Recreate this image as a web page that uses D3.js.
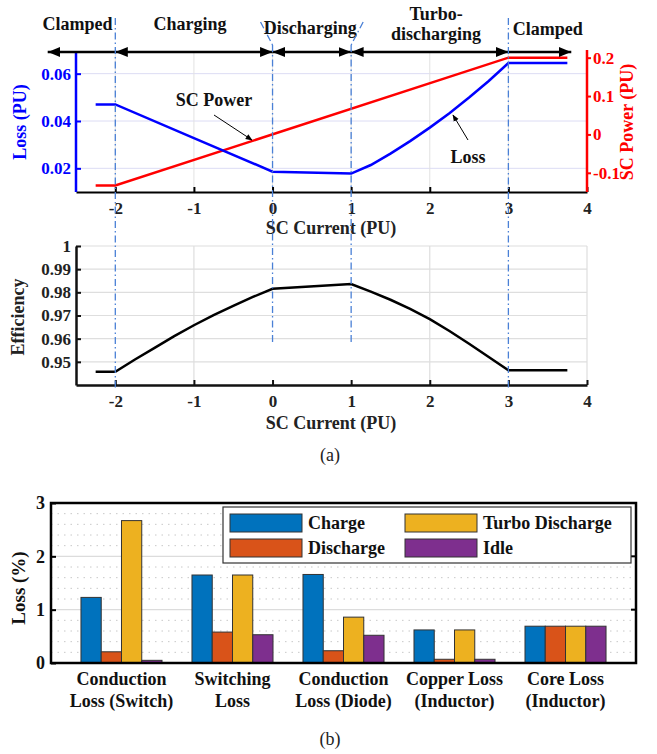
<!DOCTYPE html>
<html lang="en">
<head>
<meta charset="UTF-8">
<title>SC Loss / Efficiency</title>
<script src="https://cdn.jsdelivr.net/npm/d3@7"></script>
<style>
  body { margin: 0; background: #fff; }
  svg text { font-family: "Liberation Serif", "Times New Roman", serif; font-weight: bold; }
</style>
</head>
<body>
<div id="chart"></div>
<script>
// ---- data ----
const lossX = [-2.25, -2, -1, 0, 1, 1.25, 1.5, 1.75, 2, 2.25, 2.5, 2.75, 3, 3.75];
const lossY = [0.047, 0.047, 0.0328, 0.0186, 0.0178, 0.0214, 0.0262, 0.0315, 0.0372, 0.0433, 0.0499, 0.0569, 0.0645, 0.0645];
const powerX = [-2.25, -2, 3, 3.75];
const powerY = [-0.133, -0.133, 0.2, 0.2];
const effX = [-2.25, -2, -1.75, -1.5, -1.25, -1, -0.75, -0.5, -0.25, 0, 1, 1.25, 1.5, 1.75, 2, 2.25, 2.5, 2.75, 3, 3.75];
const effY = [0.9457, 0.9457, 0.951, 0.956, 0.9611, 0.9658, 0.9702, 0.9742, 0.978, 0.9815, 0.9836, 0.9803, 0.9768, 0.9729, 0.9684, 0.9633, 0.9578, 0.9521, 0.9464, 0.9464];
const modeBounds = [-2, 0, 1, 3];
const modes = ["Clamped", "Charging", "Discharging", "Turbo-\ndischarging", "Clamped"];

const categories = ["Conduction\nLoss (Switch)", "Switching\nLoss", "Conduction\nLoss (Diode)", "Copper Loss\n(Inductor)", "Core Loss\n(Inductor)"];
const seriesNames = ["Charge", "Discharge", "Turbo Discharge", "Idle"];
const charge = [1.23, 1.65, 1.66, 0.62, 0.69];
const discharge = [0.21, 0.58, 0.23, 0.07, 0.69];
const turbo = [2.67, 1.65, 0.86, 0.62, 0.69];
const idle = [0.05, 0.53, 0.52, 0.07, 0.69];
const barColors = ["#0072BD", "#D95319", "#EDB120", "#7E2F8E"];

const W = 657, H = 754;
const svg = d3.select("#chart").append("svg").attr("width", W).attr("height", H);

const x = d3.scaleLinear().domain([-2.5, 4]).range([76, 587]);
const dashBlue = "#4a80d6";
const plain = d => String(d);
const TICK = "17px", LAB = "18px";

// ---------- top chart ----------
const yL = d3.scaleLinear().domain([0.01, 0.07]).range([192, 50]);
const yR = d3.scaleLinear().domain([-0.15, 0.22]).range([192, 50]);

const gTop = svg.append("g");
// grid
gTop.selectAll(".hg").data([0.02, 0.04, 0.06]).enter().append("line")
  .attr("x1", 76).attr("x2", 587).attr("y1", d => yL(d)).attr("y2", d => yL(d))
  .attr("stroke", "#dcdcf4").attr("stroke-width", 1);
gTop.selectAll(".vg").data([-2, -1, 0, 1, 2, 3]).enter().append("line")
  .attr("x1", d => x(d)).attr("x2", d => x(d)).attr("y1", 52).attr("y2", 192)
  .attr("stroke", "#e2e2e2").attr("stroke-width", 1);

const xAxisTop = gTop.append("g").attr("transform", "translate(0,192)")
  .call(d3.axisBottom(x).tickValues([-2, -1, 0, 1, 2, 3, 4]).tickFormat(plain).tickSizeInner(-5).tickSizeOuter(0).tickPadding(10));
const yAxisL = gTop.append("g").attr("transform", "translate(76,0)")
  .call(d3.axisLeft(yL).tickValues([0.02, 0.04, 0.06]).tickFormat(plain).tickSizeInner(-5).tickSizeOuter(0).tickPadding(5));
const yAxisR = gTop.append("g").attr("transform", "translate(587,0)")
  .call(d3.axisRight(yR).tickValues([-0.1, 0, 0.1, 0.2]).tickFormat(plain).tickSizeInner(4).tickSizeOuter(0).tickPadding(2));
xAxisTop.select(".domain").attr("stroke", "#000").attr("stroke-width", 2);
xAxisTop.selectAll("line").attr("stroke", "#000").attr("stroke-width", 2);
yAxisL.select(".domain").attr("stroke", "#0000ff").attr("stroke-width", 2.5).attr("d", "M0,192V52");
yAxisL.selectAll("line").attr("stroke", "#0000ff").attr("stroke-width", 2);
yAxisR.select(".domain").attr("stroke", "#ff0000").attr("stroke-width", 2.5).attr("d", "M0,192V50");
yAxisR.selectAll("line").attr("stroke", "#ff0000").attr("stroke-width", 2);
xAxisTop.selectAll("text").attr("fill", "#222").style("font-size", TICK);
yAxisL.selectAll("text").attr("fill", "#0000ff").style("font-size", TICK);
yAxisR.selectAll("text").attr("fill", "#ff0000").style("font-size", TICK);

const lineL = d3.line().x(d => x(d[0])).y(d => yL(d[1]));
const lineR = d3.line().x(d => x(d[0])).y(d => yR(d[1]));
gTop.append("path").datum(d3.zip(powerX, powerY)).attr("d", lineR)
  .attr("fill", "none").attr("stroke", "#ff0000").attr("stroke-width", 2.5);
gTop.append("path").datum(d3.zip(lossX, lossY)).attr("d", lineL)
  .attr("fill", "none").attr("stroke", "#0000ff").attr("stroke-width", 2.5);

gTop.append("text").attr("x", 22).attr("y", 122).attr("transform", "rotate(-90,22,122)")
  .attr("text-anchor", "middle").attr("dominant-baseline", "middle")
  .attr("fill", "#0000ff").style("font-size", LAB).text("Loss (PU)");
gTop.append("text").attr("x", 629).attr("y", 122).attr("transform", "rotate(-90,629,122)")
  .attr("text-anchor", "middle").attr("dominant-baseline", "middle")
  .attr("fill", "#ff0000").style("font-size", LAB).text("SC Power (PU)");
gTop.append("text").attr("x", 331).attr("y", 234).attr("text-anchor", "middle")
  .attr("fill", "#222").style("font-size", LAB).text("SC Current (PU)");

// annotations
const defs = svg.append("defs");
defs.append("marker").attr("id", "ah").attr("viewBox", "0 0 10 10").attr("refX", 9).attr("refY", 5)
  .attr("markerWidth", 7).attr("markerHeight", 7).attr("orient", "auto")
  .append("path").attr("d", "M0,1L10,5L0,9z").attr("fill", "#000");
defs.append("marker").attr("id", "big").attr("viewBox", "0 0 10 10").attr("refX", 10).attr("refY", 5)
  .attr("markerWidth", 5).attr("markerHeight", 4).attr("markerUnits", "strokeWidth").attr("orient", "auto-start-reverse")
  .attr("preserveAspectRatio", "none")
  .append("path").attr("d", "M0,0L10,5L0,10z").attr("fill", "#000");

gTop.append("text").attr("x", 214).attr("y", 106).attr("text-anchor", "middle")
  .attr("fill", "#111").style("font-size", LAB).text("SC Power");
gTop.append("line").attr("x1", 214).attr("y1", 115).attr("x2", 252).attr("y2", 140)
  .attr("stroke", "#000").attr("stroke-width", 1).attr("marker-end", "url(#ah)");
gTop.append("text").attr("x", 468).attr("y", 163).attr("text-anchor", "middle")
  .attr("fill", "#111").style("font-size", LAB).text("Loss");
gTop.append("line").attr("x1", 468).attr("y1", 140).attr("x2", 453).attr("y2", 115)
  .attr("stroke", "#000").attr("stroke-width", 1).attr("marker-end", "url(#ah)");

// mode arrows
const segs = [[-2.86, -2, true, false], [-2, 0, true, true], [0, 1, true, true], [1, 3, true, true], [3, 3.8, false, true]];
segs.forEach(s => {
  gTop.append("line").attr("x1", x(s[0])).attr("x2", x(s[1])).attr("y1", 52).attr("y2", 52)
    .attr("stroke", "#000").attr("stroke-width", 2.5)
    .attr("marker-start", s[2] ? "url(#big)" : null)
    .attr("marker-end", s[3] ? "url(#big)" : null);
});
const labelX = [-2.48, -1.05, 0.48, 2.08, 3.5];
const labelY = [30, 30, 34, 40, 35];
modes.forEach((m, i) => {
  const lines = m.split("\n");
  const t = gTop.append("text").attr("x", x(labelX[i])).attr("text-anchor", "middle")
    .attr("fill", "#111").style("font-size", LAB);
  if (lines.length === 1) {
    t.attr("y", labelY[i]).text(m);
  } else {
    t.attr("y", labelY[i] - 20).text(lines[0]);
    gTop.append("text").attr("x", x(labelX[i])).attr("y", labelY[i]).attr("text-anchor", "middle")
      .attr("fill", "#111").style("font-size", LAB).text(lines[1]);
  }
});

// ---------- efficiency chart ----------
const yE = d3.scaleLinear().domain([0.94, 1]).range([385, 246]);
const gMid = svg.append("g");
gMid.selectAll(".hg").data([0.95, 0.96, 0.97, 0.98, 0.99, 1]).enter().append("line")
  .attr("x1", 76).attr("x2", 587).attr("y1", d => yE(d)).attr("y2", d => yE(d))
  .attr("stroke", "#dedede").attr("stroke-width", 1.2);
gMid.selectAll(".vg").data([-1, 2, 4]).enter().append("line")
  .attr("x1", d => x(d)).attr("x2", d => x(d)).attr("y1", 246).attr("y2", 385)
  .attr("stroke", "#dedede").attr("stroke-width", 1.2);
const xAxisMid = gMid.append("g").attr("transform", "translate(0,385)")
  .call(d3.axisBottom(x).tickValues([-2, -1, 0, 1, 2, 3, 4]).tickFormat(plain).tickSizeInner(-5).tickSizeOuter(0).tickPadding(10));
const yAxisE = gMid.append("g").attr("transform", "translate(76,0)")
  .call(d3.axisLeft(yE).tickValues([0.95, 0.96, 0.97, 0.98, 0.99, 1]).tickFormat(plain).tickSizeInner(-5).tickSizeOuter(0).tickPadding(5));
[xAxisMid, yAxisE].forEach(a => {
  a.select(".domain").attr("stroke", "#111").attr("stroke-width", 2.5);
  a.selectAll("line").attr("stroke", "#111").attr("stroke-width", 2);
  a.selectAll("text").attr("fill", "#222").style("font-size", TICK);
});
gMid.append("path").datum(d3.zip(effX, effY))
  .attr("d", d3.line().x(d => x(d[0])).y(d => yE(d[1])))
  .attr("fill", "none").attr("stroke", "#000").attr("stroke-width", 2.5);
gMid.append("text").attr("x", 20).attr("y", 317).attr("transform", "rotate(-90,20,317)")
  .attr("text-anchor", "middle").attr("dominant-baseline", "middle")
  .attr("fill", "#222").style("font-size", LAB).text("Efficiency");
gMid.append("text").attr("x", 331).attr("y", 429).attr("text-anchor", "middle")
  .attr("fill", "#222").style("font-size", LAB).text("SC Current (PU)");
svg.append("text").attr("x", 330).attr("y", 461).attr("text-anchor", "middle")
  .attr("fill", "#222").style("font-size", LAB).style("font-weight", "normal").text("(a)");

// mode boundary dash-dot lines
modeBounds.forEach(b => {
  const full = b === -2 || b === 3;
  svg.append("line").attr("x1", x(b)).attr("x2", x(b)).attr("y1", full ? 18 : 45).attr("y2", full ? 390 : 342)
    .attr("stroke", dashBlue).attr("stroke-width", 1.3).attr("stroke-dasharray", "7,3,1.5,3");
});
svg.append("line").attr("x1", x(0) - 12).attr("y1", 22).attr("x2", x(0)).attr("y2", 45)
  .attr("stroke", dashBlue).attr("stroke-width", 1.3).attr("stroke-dasharray", "7,3,1.5,3");
svg.append("line").attr("x1", x(1) + 12).attr("y1", 22).attr("x2", x(1)).attr("y2", 45)
  .attr("stroke", dashBlue).attr("stroke-width", 1.3).attr("stroke-dasharray", "7,3,1.5,3");

// ---------- bar chart ----------
const bx = d3.scaleBand().domain(categories).range([51, 636]).padding(0.27);
const bs = d3.scaleBand().domain(seriesNames).range([0, bx.bandwidth()]);
const by = d3.scaleLinear().domain([0, 3]).range([663, 503]);
const gBars = svg.append("g");
// dotted minor grid
gBars.selectAll(".mg").data(d3.range(1, 15).map(i => i * 0.2).filter(v => Math.abs(v - 1) > 1e-6 && Math.abs(v - 2) > 1e-6))
  .enter().append("line")
  .attr("x1", 51).attr("x2", 636).attr("y1", d => by(d)).attr("y2", d => by(d))
  .attr("stroke", "#c8c8c8").attr("stroke-width", 1).attr("stroke-dasharray", "1.5,5");
gBars.selectAll(".Mg").data([1, 2]).enter().append("line")
  .attr("x1", 51).attr("x2", 636).attr("y1", d => by(d)).attr("y2", d => by(d))
  .attr("stroke", "#dcdcdc").attr("stroke-width", 1.2);

const seriesVals = [charge, discharge, turbo, idle];
seriesVals.forEach((vals, si) => {
  gBars.selectAll(".b" + si).data(vals).enter().append("rect")
    .attr("x", (d, i) => bx(categories[i]) + bs(seriesNames[si]))
    .attr("width", bs.bandwidth())
    .attr("y", d => by(d)).attr("height", d => by(0) - by(d))
    .attr("fill", barColors[si]).attr("stroke", "#333").attr("stroke-width", 1);
});

const yAxisB = gBars.append("g").attr("transform", "translate(51,0)")
  .call(d3.axisLeft(by).tickValues([0, 1, 2, 3]).tickFormat(plain).tickSizeInner(-5).tickSizeOuter(0).tickPadding(6));
yAxisB.select(".domain").remove();
yAxisB.selectAll("line").attr("stroke", "#000").attr("stroke-width", 2);
yAxisB.selectAll("text").attr("fill", "#111").style("font-size", LAB);
[1, 2].forEach(v => gBars.append("line").attr("x1", 636).attr("x2", 631).attr("y1", by(v)).attr("y2", by(v))
  .attr("stroke", "#000").attr("stroke-width", 2));
gBars.append("rect").attr("x", 51).attr("y", 503).attr("width", 585).attr("height", 160)
  .attr("fill", "none").attr("stroke", "#000").attr("stroke-width", 2.5);

categories.forEach(c => {
  const ls = c.split("\n");
  ls.forEach((l, j) => {
    gBars.append("text").attr("x", bx(c) + bx.bandwidth() / 2).attr("y", 685 + j * 22)
      .attr("text-anchor", "middle").attr("fill", "#111").style("font-size", LAB).text(l);
  });
});
gBars.append("text").attr("x", 21).attr("y", 588).attr("transform", "rotate(-90,21,588)")
  .attr("text-anchor", "middle").attr("dominant-baseline", "middle")
  .attr("fill", "#111").style("font-size", "19px").text("Loss (%)");
svg.append("text").attr("x", 330).attr("y", 745).attr("text-anchor", "middle")
  .attr("fill", "#222").style("font-size", LAB).style("font-weight", "normal").text("(b)");

// legend
const leg = gBars.append("g");
leg.append("rect").attr("x", 223).attr("y", 507).attr("width", 408).attr("height", 56)
  .attr("fill", "#fff").attr("stroke", "#333").attr("stroke-width", 1.2);
const legPos = [[230, 514], [230, 539], [405, 514], [405, 539]];
seriesNames.forEach((n, i) => {
  leg.append("rect").attr("x", legPos[i][0]).attr("y", legPos[i][1]).attr("width", 72).attr("height", 18)
    .attr("fill", barColors[i]).attr("stroke", "#333").attr("stroke-width", 1);
  leg.append("text").attr("x", legPos[i][0] + 78).attr("y", legPos[i][1] + 15)
    .attr("fill", "#111").style("font-size", LAB).text(n);
});
</script>
</body>
</html>
